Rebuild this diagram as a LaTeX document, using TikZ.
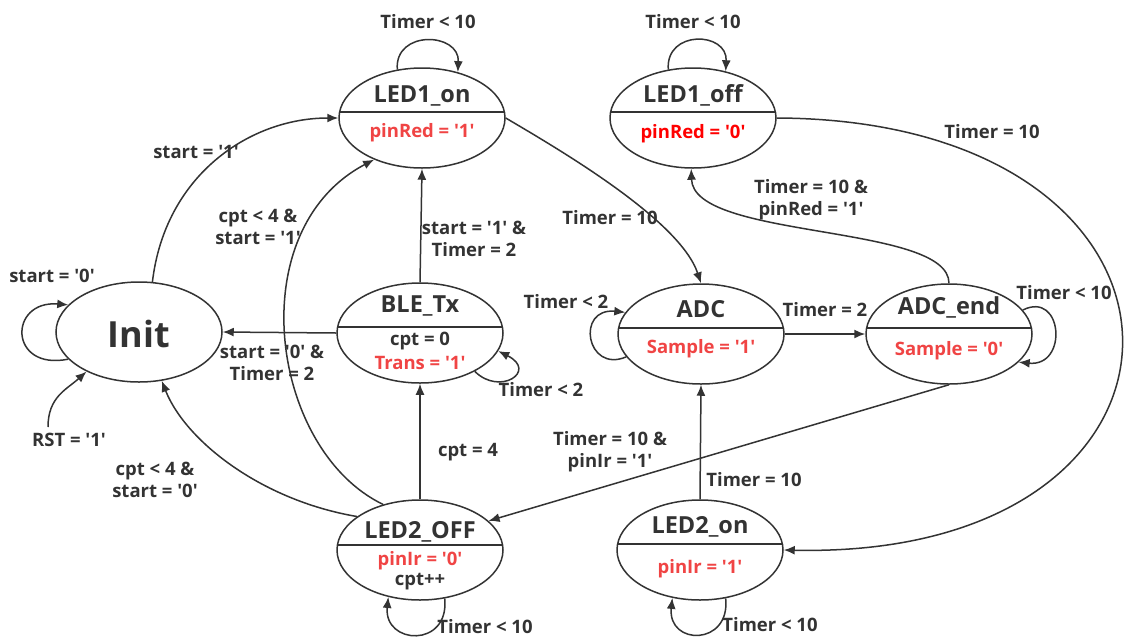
\documentclass[tikz,border=0pt]{standalone}
\usepackage{fontspec}
\newfontfamily\ofont{Open Sans}
\usetikzlibrary{shapes.geometric,arrows.meta,calc}
\definecolor{tgray}{HTML}{333333}
\definecolor{sred}{HTML}{F04444}
\definecolor{pred}{HTML}{FF0000}
\begin{document}
\begin{tikzpicture}[x=1pt,y=-1pt,
  state/.style={ellipse,draw=tgray,line width=1.5pt,minimum width=166pt,minimum height=100pt,inner sep=0pt},
  ttl/.style={anchor=base,inner sep=0pt,text=tgray,font=\ofont\fontsize{23.5}{27}\selectfont\bfseries},
  act/.style={anchor=base,inner sep=0pt,text=sred,font=\ofont\fontsize{18.5}{22}\selectfont\bfseries},
  lbl/.style={inner sep=0pt,text=tgray,align=center,font=\ofont\fontsize{18.5}{22}\selectfont\bfseries},
  edge/.style={draw=tgray,line width=1.5pt,-{Latex[length=11pt,width=9pt]}},
  divline/.style={draw=tgray,line width=1.7pt}]
\fill[white] (0,0) rectangle (1125,641);
\useasboundingbox (0,0) rectangle (1125,641);

% states
\node[state] (init) at (139,332) {};
\node[state] (ledon) at (422,118) {};
\node[state] (ledoff) at (693,118) {};
\node[state] (ble) at (420,333) {};
\node[state] (adc) at (701,334) {};
\node[state] (adcend) at (949,334) {};
\node[state] (ledtwooff) at (420,550) {};
\node[state] (ledtwoon) at (700,550) {};

% dividers
\foreach \n in {ledon,ledoff,ble,adc,adcend,ledtwoon}
  \draw[divline] ($(\n)+(-82.4,-6)$) -- ($(\n)+(82.4,-6)$);
\draw[divline] ($(ledtwooff)+(-82.6,-5)$) -- ($(ledtwooff)+(82.6,-5)$);

% state texts
\node[anchor=base,inner sep=0pt,text=tgray,font=\ofont\fontsize{36}{40}\selectfont\bfseries] (initt) at (139,347) {Init};
\node[ttl] (ledont) at (422,102) {LED1\_on};
\node[act] (ledona) at (422,137) {pinRed = '1'};
\node[ttl] (ledofft) at (693,102) {LED1\_off};
\node[act,text=pred] (ledoffa) at (693,138) {pinRed = '0'};
\node[ttl] (blet) at (420,312) {BLE\_Tx};
\node[act,text=tgray] (blea) at (420,345) {cpt = 0};
\node[act] (bleb) at (420,369) {Trans = '1'};
\node[ttl] (adct) at (701,317) {ADC};
\node[act] (adca) at (701,353) {Sample = '1'};
\node[ttl] (adcendt) at (949,314) {ADC\_end};
\node[act] (adcenda) at (949,355) {Sample = '0'};
\node[ttl] (ledtwoofft) at (420,538) {LED2\_OFF};
\node[act] (ledtwooffa) at (420,565) {pinIr = '0'};
\node[act,text=tgray] (ledtwooffb) at (420,585) {cpt++};
\node[ttl] (ledtwoont) at (700,533) {LED2\_on};
\node[act] (ledtwoona) at (700,573) {pinIr = '1'};

% connectors
\coordinate (rst) at (48,427);
\draw[edge] (init.201) .. controls +(-60,12) and +(-60,-5) .. (init.159);
\draw[edge] (rst) .. controls +(0,-30) and +(-20,18) .. (init.217);
\draw[edge] (init.75) .. controls (165,175) and (250,118) .. (ledon.west);
\draw[edge] (ble.west) -- (init.east);
\draw[edge] (ble.north) -- (ledon.south);
\draw[edge] (ledtwooff.129) .. controls (270,450) and (240,230) .. (ledon.-139);
\draw[edge] (ledtwooff.152) .. controls (260,500) and (185,440) .. (init.-65);
\draw[edge] (ledtwooff.north) -- (ble.south);
\draw[edge] (ble.-35) .. controls +(25,25) and +(40,20) .. (ble.-13);
\draw[edge] (ledon.117) .. controls +(-3,-40) and +(2,-40) .. (ledon.52);
\draw[edge] (ledon.east) .. controls (560,150) and (680,220) .. (adc.north);
\draw[edge] (ledoff.117) .. controls +(-3,-40) and +(2,-40) .. (ledoff.55);
\draw[edge] (adcend.north) .. controls +(0,-60) and (693,240) .. (ledoff.-92);
\draw[edge] (ledoff.east) .. controls (1235,120) and (1235,560) .. (ledtwoon.east);
\draw[edge] (adc.197) .. controls +(-40,17) and +(-50,-5) .. (adc.164);
\draw[edge] (adc.east) -- (adcend.west);
\draw[edge] (adcend.18) .. controls +(40,-20) and +(50,5) .. (adcend.-22);
\draw[edge] (adcend.south) -- (ledtwooff.23);
\draw[edge] (ledtwoon.north) -- (adc.south);
\draw[edge] (ledtwooff.-63) .. controls +(5,50) and +(-5,48) .. (ledtwooff.-124);
\draw[edge] (ledtwoon.-62) .. controls +(5,48) and +(-5,48) .. (ledtwoon.-120);

% labels
\node[lbl] (l1) at (428,22) {Timer < 10};
\node[lbl] (l2) at (693,22) {Timer < 10};
\node[lbl] (l3) at (196,152) {start = '1'};
\node[lbl] (l4) at (992,132) {Timer = 10};
\node[lbl] (l5) at (811,200) {Timer = 10 \&\\pinRed = '1'};
\node[lbl] (l6) at (258,227) {cpt < 4 \&\\start = '1'};
\node[lbl] (l7) at (610,218) {Timer = 10};
\node[lbl] (l8) at (474,239) {start = '1' \&\\Timer = 2};
\node[lbl] (l9) at (52,276) {start = '0'};
\node[lbl] (l10) at (566,302) {Timer < 2};
\node[lbl] (l11) at (825,310) {Timer = 2};
\node[lbl] (l12) at (1064,293) {Timer < 10};
\node[lbl] (l13) at (272,363) {start = '0' \&\\Timer = 2};
\node[lbl] (l14) at (541,390) {Timer < 2};
\node[lbl] (l15) at (69,440) {RST = '1'};
\node[lbl] (l16) at (610,452) {Timer = 10 \&\\pinIr = '1'};
\node[lbl] (l17) at (468,452) {cpt = 4};
\node[lbl] (l18) at (155,480) {cpt < 4 \&\\start = '0'};
\node[lbl] (l19) at (754,480) {Timer = 10};
\node[lbl] (l20) at (485,627) {Timer < 10};
\node[lbl] (l21) at (770,625) {Timer < 10};
\end{tikzpicture}
\end{document}
